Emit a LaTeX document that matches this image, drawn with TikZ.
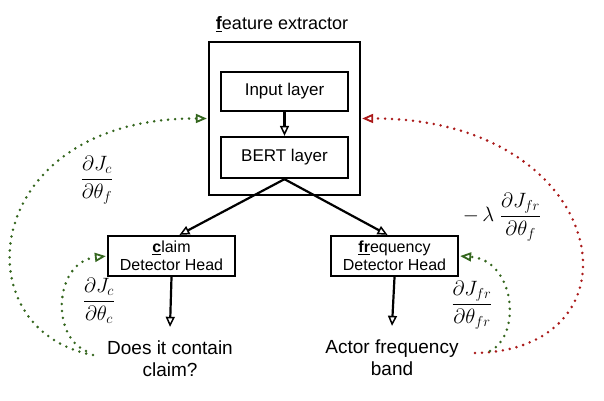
\documentclass[tikz,border=0pt]{standalone}
\usepackage{fontspec}
\setmainfont{Liberation Sans}
\usetikzlibrary{arrows.meta}
\definecolor{gdot}{RGB}{52,102,30}
\definecolor{rdot}{RGB}{170,25,25}
\begin{document}
\begin{tikzpicture}[x=1pt,y=-1pt,
  box/.style={draw,line width=2.3pt,inner sep=0pt,align=center},
  conn/.style={line width=2.2pt,-{Triangle[open,length=10pt,width=9pt,line width=1.5pt]}},
  dotline/.style={line width=2.8pt,line cap=round,dash pattern=on 0pt off 7pt,
     -{Triangle[open,length=11pt,width=9pt,line width=1.8pt,sep=1pt]}},
  lbl/.style={inner sep=0pt,font=\fontsize{16}{18}\selectfont},
  mlbl/.style={inner sep=0pt,font=\fontsize{20.5}{24}\selectfont}]
\useasboundingbox (0,0) rectangle (604,400);
\node[font=\fontsize{18}{20}\selectfont,inner sep=0pt] (title) at (282,24) {\underline{\textbf{f}}eature extractor};
\node[box,minimum width=151pt,minimum height=153pt] (fe) at (284.5,118.5) {};
\node[box,minimum width=127pt,minimum height=39pt,font=\fontsize{17}{20}\selectfont] (inp) at (284.5,91.5) {Input layer};
\node[box,minimum width=127pt,minimum height=41pt,font=\fontsize{17}{20}\selectfont] (bert) at (284.5,157.5) {BERT layer};
\node[box,minimum width=127pt,minimum height=40pt,lbl] (claim) at (171.5,256) {\underline{\textbf{c}}laim\\Detector Head};
\node[box,minimum width=127pt,minimum height=40pt,lbl] (freq) at (394.5,256) {\underline{\textbf{fr}}equency\\Detector Head};
\node[align=center,inner sep=0pt,font=\fontsize{19}{22}\selectfont] (q1) at (170,359) {Does it contain\\claim?};
\node[align=center,inner sep=0pt,font=\fontsize{19}{22}\selectfont] (q2) at (392,358) {Actor frequency\\band};
\coordinate (ct) at ([xshift=8pt]claim.north);
\coordinate (ft) at ([xshift=-7pt]freq.north);
\draw[conn] (inp) -- (bert);
\draw[conn] (bert.south) -- (ct);
\draw[conn] (bert.south) -- (ft);
\draw[conn] (claim.south) -- ([yshift=14pt]q1.north);
\draw[conn] (freq.south) -- ([yshift=14pt]q2.north);
% gradient paths
\coordinate (g1s) at (93,355);
\coordinate (g2s) at (86,351);
\coordinate (r1s) at (475,353);
\coordinate (g3s) at (490,351);
\draw[dotline,gdot] (g1s) .. controls (-40,330) and (-20,118) .. (fe.west);
\draw[dotline,gdot] (g2s) .. controls (50,335) and (55,262) .. (claim.west);
\draw[dotline,rdot] (r1s) .. controls (650,350) and (610,118) .. (fe.east);
\draw[dotline,gdot] (g3s) .. controls (522,335) and (515,260) .. (freq.east);
\node[mlbl] (l1) at (97,180) {$\displaystyle\frac{\partial J_c}{\partial\theta_f}$};
\node[mlbl] (l2) at (99,301) {$\displaystyle\frac{\partial J_c}{\partial\theta_c}$};
\node[mlbl] (l3) at (502,217) {$\displaystyle-\,\lambda\;\frac{\partial J_{fr}}{\partial\theta_f}$};
\node[mlbl] (l4) at (472,305) {$\displaystyle\frac{\partial J_{fr}}{\partial\theta_{fr}}$};
\end{tikzpicture}
\end{document}
